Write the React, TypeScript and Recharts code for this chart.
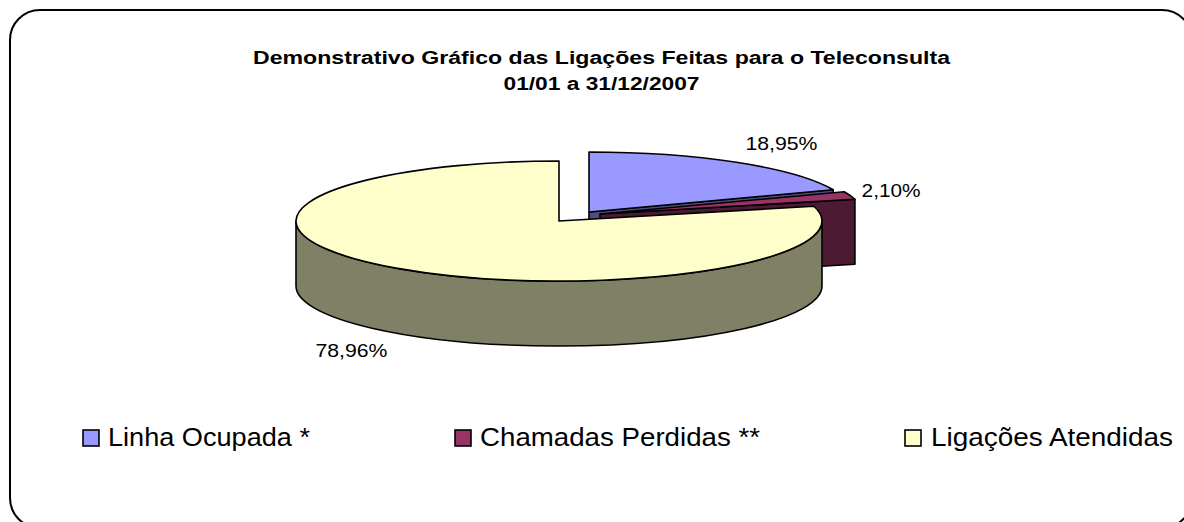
import React from "react";
import { PieChart, Pie, Legend } from "recharts";

const NAMES = ["Linha Ocupada *", "Chamadas Perdidas **", "Ligações Atendidas"];
const VALUES = [18.95, 2.1, 78.96];
const TOP_COLORS = ["#9999FF", "#993366", "#FFFFCC"];
const WALL_COLORS = ["#4D4D80", "#4D1A33", "#808066"];
const TITLE_LINES = [
  "Demonstrativo Gráfico das Ligações Feitas para o Teleconsulta",
  "01/01 a 31/12/2007",
];

const rows = NAMES.map((name, i) => ({ name, value: VALUES[i], fill: TOP_COLORS[i] }));

// Layout of the tilted, exploded pie
const CX = 559;
const CY = 221;
const RX = 263;
const RY = 60;
const DEPTH = 65;
const EXPLODE = [
  { dx: 30, dy: -9 },
  { dx: 41, dy: -7 },
  { dx: 0, dy: 0 },
];
const LABEL_BOX = [
  { dx: 45, dy: -12, w: 72 },
  { dx: 41, dy: 2, w: 59 },
  { dx: -46, dy: 89, w: 72 },
];
const LEGEND_BOX = [
  { x: 83, textX: 108, w: 202 },
  { x: 455, textX: 480, w: 280 },
  { x: 905, textX: 931, w: 242 },
];

const FONT = "'Liberation Sans', Arial, sans-serif";

function rim(cx: number, cy: number, theta: number) {
  const t = (theta * Math.PI) / 180;
  return { x: cx + RX * Math.sin(t), y: cy - RY * Math.cos(t) };
}

function Slice3D(props: any) {
  const i = NAMES.indexOf(props.name);
  const cx = props.cx + EXPLODE[i].dx;
  const cy = props.cy + EXPLODE[i].dy;
  const t1 = 90 - props.startAngle;
  const t2 = 90 - props.endAngle;
  const a = rim(cx, cy, t1);
  const b = rim(cx, cy, t2);
  const large = t2 - t1 > 180 ? 1 : 0;
  const stroke = { stroke: "#000", strokeWidth: 1.6, strokeLinejoin: "round" as const };
  const parts: React.ReactNode[] = [];
  const cut = (p: { x: number; y: number }, key: string) => (
    <path
      key={key}
      d={`M${cx},${cy}L${p.x},${p.y}L${p.x},${p.y + DEPTH}L${cx},${cy + DEPTH}Z`}
      fill={WALL_COLORS[i]}
      {...stroke}
    />
  );
  if (t1 > 180 && t1 < 360) parts.push(cut(a, "start"));
  if (t2 > 0 && t2 < 180) parts.push(cut(b, "end"));
  const w1 = Math.max(t1, 90);
  const w2 = Math.min(t2, 270);
  if (w2 > w1) {
    const p = rim(cx, cy, w1);
    const q = rim(cx, cy, w2);
    parts.push(
      <path
        key="wall"
        d={`M${p.x},${p.y}A${RX},${RY} 0 0 1 ${q.x},${q.y}L${q.x},${q.y + DEPTH}A${RX},${RY} 0 0 0 ${p.x},${p.y + DEPTH}Z`}
        fill={WALL_COLORS[i]}
        {...stroke}
      />
    );
  }
  return (
    <g>
      {parts}
      <path
        d={`M${cx},${cy}L${a.x},${a.y}A${RX},${RY} 0 ${large} 1 ${b.x},${b.y}Z`}
        fill={props.fill}
        {...stroke}
      />
    </g>
  );
}

function SliceLabel(props: any) {
  const i = NAMES.indexOf(props.name);
  const mid = 90 - (props.startAngle + props.endAngle) / 2;
  const p = rim(props.cx + EXPLODE[i].dx, props.cy + EXPLODE[i].dy, mid);
  const box = LABEL_BOX[i];
  const text = props.value.toFixed(2).replace(".", ",") + "%";
  return (
    <text
      x={p.x + box.dx}
      y={p.y + box.dy}
      textAnchor="middle"
      fontFamily={FONT}
      fontSize={19}
      fill="#000"
      textLength={box.w}
      lengthAdjust="spacingAndGlyphs"
    >
      {text}
    </text>
  );
}

function LegendContent({ payload }: any) {
  return (
    <svg width={1184} height={522} style={{ display: "block" }}>
      {(payload || []).map((item: any) => {
        const i = NAMES.indexOf(item.value);
        return (
          <g key={item.value}>
            <rect
              x={LEGEND_BOX[i].x}
              y={430}
              width={16}
              height={16}
              fill={TOP_COLORS[i]}
              stroke="#000"
              strokeWidth={1.6}
            />
            <text
              x={LEGEND_BOX[i].textX}
              y={446}
              fontFamily={FONT}
              fontSize={26}
              fill="#000"
              textLength={LEGEND_BOX[i].w}
              lengthAdjust="spacingAndGlyphs"
            >
              {item.value}
            </text>
          </g>
        );
      })}
    </svg>
  );
}

export default function App() {
  return (
    <div style={{ position: "absolute", left: 0, top: 0, width: 1184, height: 522, background: "#fff", overflow: "hidden" }}>
      <PieChart width={1184} height={522} margin={{ top: 0, right: 0, bottom: 0, left: 0 }}>
        <rect x={10} y={10} width={1182} height={518} rx={30} ry={30} fill="#fff" stroke="#000" strokeWidth={2} />
        <text x={601.5} y={63.5} textAnchor="middle" fontFamily={FONT} fontWeight="bold" fontSize={18} fill="#000" textLength={697} lengthAdjust="spacingAndGlyphs">
          {TITLE_LINES[0]}
        </text>
        <text x={601.5} y={90} textAnchor="middle" fontFamily={FONT} fontWeight="bold" fontSize={18} fill="#000" textLength={196} lengthAdjust="spacingAndGlyphs">
          {TITLE_LINES[1]}
        </text>
        <Pie
          data={rows}
          dataKey="value"
          nameKey="name"
          cx={CX}
          cy={CY}
          outerRadius={RX}
          startAngle={90}
          endAngle={-270}
          stroke="none"
          isAnimationActive={false}
          shape={Slice3D}
          label={SliceLabel}
          labelLine={false}
        />
        <Legend
          content={LegendContent}
          itemSorter={null}
          wrapperStyle={{ position: "absolute", left: 0, top: 0, width: 1184, height: 522, pointerEvents: "none" }}
        />
      </PieChart>
    </div>
  );
}
